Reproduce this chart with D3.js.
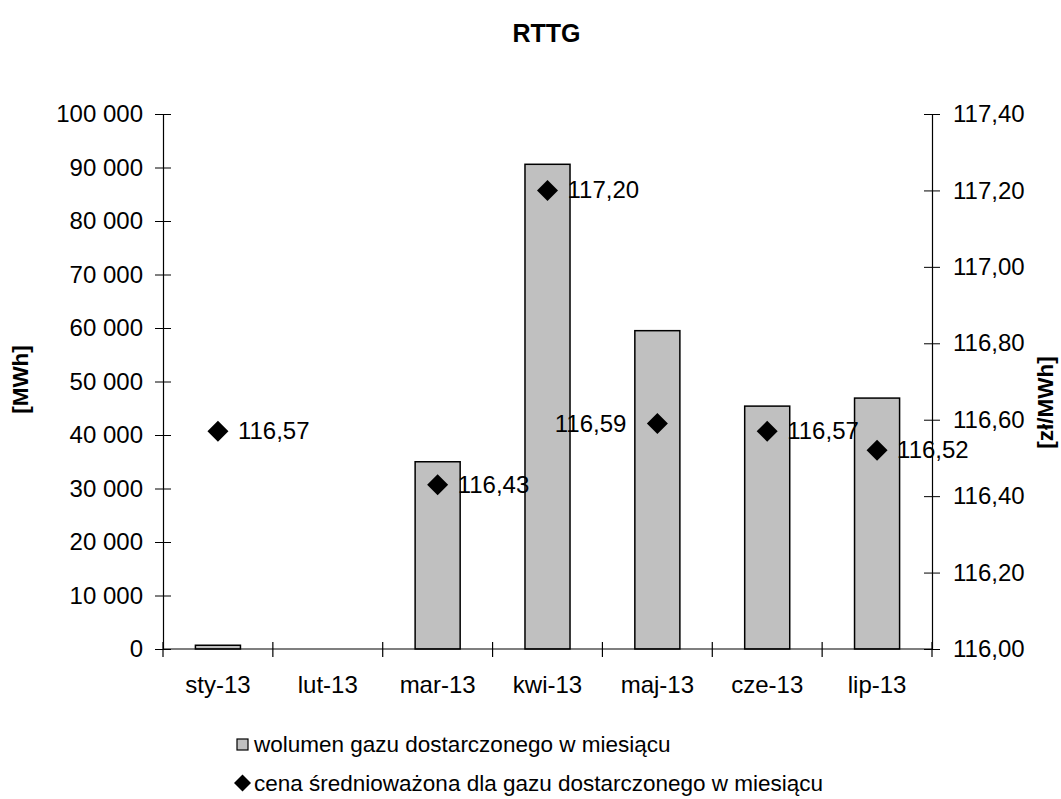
<!DOCTYPE html>
<html>
<head>
<meta charset="utf-8">
<script src="https://cdn.jsdelivr.net/npm/d3@7"></script>
<style>
  html, body { margin: 0; padding: 0; background: #fff; }
  svg { display: block; font-family: "Liberation Sans", Arial, sans-serif; }
</style>
</head>
<body>
<svg id="chart" width="1061" height="799"></svg>
<script>
// ---- data ----
const categories = ["sty-13", "lut-13", "mar-13", "kwi-13", "maj-13", "cze-13", "lip-13"];
const volumes = [700, 0, 35000, 90600, 59500, 45400, 46900];           // [MWh]
const prices = [116.57, null, 116.43, 117.20, 116.59, 116.57, 116.52];  // [zł/MWh]
const leftTicks = [0, 10000, 20000, 30000, 40000, 50000, 60000, 70000, 80000, 90000, 100000];
const rightTicks = [116.00, 116.20, 116.40, 116.60, 116.80, 117.00, 117.20, 117.40];
const titleText = "RTTG";
const leftTitle = "[MWh]";
const rightTitle = "[zł/MWh]";
const legendLabels = ["wolumen gazu dostarczonego w miesiącu",
                      "cena średnioważona dla gazu dostarczonego w miesiącu"];

// ---- layout ----
const L = 163, R = 932, T = 114, B = 649;
const FS = 24;
const svg = d3.select("#chart");

const x = d3.scaleBand().domain(categories).range([L, R]).paddingInner(0.59).paddingOuter(0.295);
const step = x.step();
const yL = d3.scaleLinear().domain([0, 100000]).range([B, T]);
const yR = d3.scaleLinear().domain([116.0, 117.4]).range([B, T]);

const fmtL = v => d3.format(",")(v).replace(/,/g, " ");
const fmtR = v => d3.format(".2f")(v).replace(".", ",");

// title
svg.append("text").attr("x", (L + R) / 2 - 1).attr("y", 42)
  .attr("text-anchor", "middle").attr("font-size", 25).attr("font-weight", "bold")
  .text(titleText);

// bars
svg.append("g").selectAll("rect").data(categories.map((c, i) => ({c, v: volumes[i]})).filter(d => d.v > 0))
  .join("rect")
  .attr("x", d => x(d.c)).attr("width", x.bandwidth())
  .attr("y", d => yL(d.v)).attr("height", d => yL(0) - yL(d.v))
  .attr("fill", "#c0c0c0").attr("stroke", "#000").attr("stroke-width", 1.5);

// left axis
const gL = svg.append("g").attr("transform", `translate(${L},0)`);
gL.call(d3.axisLeft(yL).tickValues(leftTicks).tickFormat(fmtL).tickSizeInner(8).tickSizeOuter(0).tickPadding(12));
gL.selectAll(".tick line").attr("x2", 8).attr("x1", -8);
gL.select(".domain").attr("stroke", "#000").attr("stroke-width", 1.2);
gL.selectAll(".tick text").attr("font-size", FS).attr("font-family", "Liberation Sans, Arial, sans-serif").attr("fill", "#000").attr("x", -20);

// right axis
const gR = svg.append("g").attr("transform", `translate(${R},0)`);
gR.call(d3.axisRight(yR).tickValues(rightTicks).tickFormat(fmtR).tickSizeInner(8).tickSizeOuter(0).tickPadding(12));
gR.selectAll(".tick line").attr("x1", -8).attr("x2", 8);
gR.select(".domain").attr("stroke", "#000").attr("stroke-width", 1.2);
gR.selectAll(".tick text").attr("font-size", FS).attr("font-family", "Liberation Sans, Arial, sans-serif").attr("fill", "#000").attr("x", 21);

// bottom axis line + ticks at category boundaries
const gB = svg.append("g");
gB.append("line").attr("x1", L).attr("x2", R).attr("y1", B).attr("y2", B).attr("stroke", "#000").attr("stroke-width", 1.2);
const boundaries = categories.map(c => x(c) - step * 0.295).concat([R]);
gB.selectAll("line.tk").data(boundaries).join("line").attr("class", "tk")
  .attr("x1", d => d).attr("x2", d => d).attr("y1", B - 7).attr("y2", B + 8)
  .attr("stroke", "#000").attr("stroke-width", 1.2);
gB.selectAll("text").data(categories).join("text")
  .attr("x", d => x(d) + x.bandwidth() / 2).attr("y", 693)
  .attr("text-anchor", "middle").attr("font-size", FS).text(d => d);

// axis titles
svg.append("text").attr("transform", `translate(28,${(T + B) / 2 - 2}) rotate(-90)`)
  .attr("text-anchor", "middle").attr("font-size", 22.5).attr("font-weight", "bold").text(leftTitle);
svg.append("text").attr("transform", `translate(1053,${(T + B) / 2 + 21}) rotate(-90)`)
  .attr("text-anchor", "middle").attr("font-size", 22.5).attr("font-weight", "bold").text(rightTitle);

// diamonds + labels
const pts = categories.map((c, i) => ({c, p: prices[i]})).filter(d => d.p != null);
const diamond = (cx, cy, r) => `M${cx},${cy - r}L${cx + r},${cy}L${cx},${cy + r}L${cx - r},${cy}Z`;
const gP = svg.append("g");
gP.selectAll("path").data(pts).join("path")
  .attr("d", d => diamond(x(d.c) + x.bandwidth() / 2, yR(d.p), 10.5))
  .attr("fill", "#000");
gP.selectAll("text").data(pts).join("text")
  .attr("x", d => d.c === "maj-13" ? x(d.c) + x.bandwidth() / 2 - 31 : x(d.c) + x.bandwidth() / 2 + 20)
  .attr("text-anchor", d => d.c === "maj-13" ? "end" : "start")
  .attr("y", d => yR(d.p) + 8)
  .attr("font-size", FS).text(d => fmtR(d.p));

// legend
const lg = svg.append("g");
lg.append("rect").attr("x", 237).attr("y", 739).attr("width", 11).attr("height", 11)
  .attr("fill", "#c0c0c0").attr("stroke", "#000").attr("stroke-width", 1.2);
lg.append("text").attr("x", 254).attr("y", 752).attr("font-size", 22.5).text(legendLabels[0]);
lg.append("path").attr("d", diamond(242.5, 783, 8.5)).attr("fill", "#000");
lg.append("text").attr("x", 254).attr("y", 791).attr("font-size", 22.5).text(legendLabels[1]);
</script>
</body>
</html>
